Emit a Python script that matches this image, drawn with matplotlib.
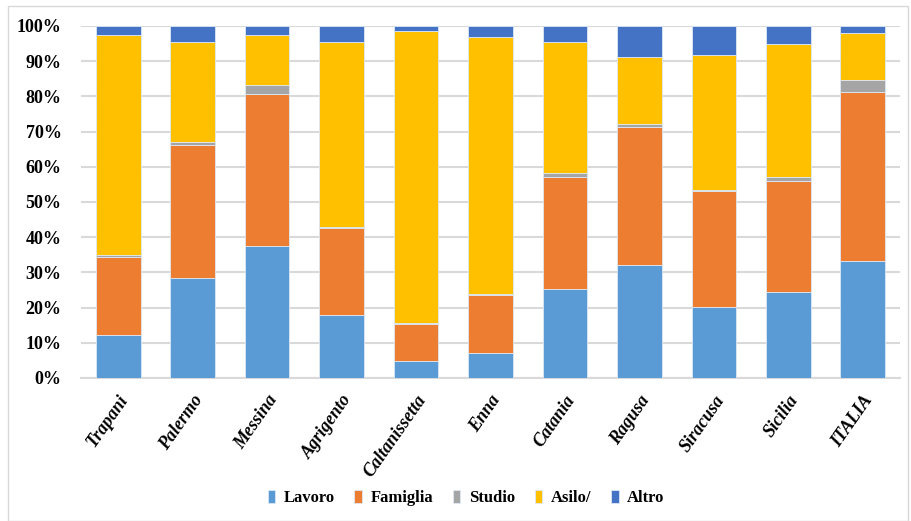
import matplotlib
matplotlib.use("Agg")
import matplotlib.pyplot as plt
from matplotlib.patches import Rectangle
from matplotlib.ticker import PercentFormatter
import numpy as np

# share of permits by reason, per province (%)
categories = ['Trapani', 'Palermo', 'Messina', 'Agrigento', 'Caltanissetta', 'Enna',
              'Catania', 'Ragusa', 'Siracusa', 'Sicilia', 'ITALIA']
lavoro = [12.2, 28.5, 37.4, 18.0, 4.9, 7.1, 25.3, 32.1, 20.2, 24.3, 33.2]
famiglia = [22.1, 37.6, 43.4, 24.5, 10.5, 16.6, 31.9, 39.1, 32.8, 31.8, 48.1]
studio = [0.6, 1.0, 2.5, 0.5, 0.1, 0.1, 1.0, 1.1, 0.5, 1.1, 3.5]
asilo = [62.5, 28.3, 14.1, 52.4, 83.1, 73.2, 37.2, 18.9, 38.3, 37.6, 13.2]
altro = [2.6, 4.6, 2.6, 4.6, 1.4, 3.0, 4.6, 8.8, 8.2, 5.2, 2.0]

series = [('Lavoro', lavoro, '#5B9BD5'),
          ('Famiglia', famiglia, '#ED7D31'),
          ('Studio', studio, '#A5A5A5'),
          ('Asilo/', asilo, '#FFC000'),
          ('Altro', altro, '#4472C4')]

plt.rcParams['font.family'] = ['Liberation Serif', 'DejaVu Serif']

fig = plt.figure(figsize=(9.11, 5.21), dpi=100)
ax = fig.add_axes([81 / 911, 1 - 378 / 521, 819 / 911, 352 / 521])

x = np.arange(len(categories))
bottom = np.zeros(len(categories))
for name, vals, col in series:
    vals = np.array(vals)
    ax.bar(x, vals, 0.6, bottom=bottom, color=col, label=name,
           edgecolor='#DDE8F5', linewidth=0.6, zorder=3)
    bottom += vals

ax.set_xlim(-0.5, len(categories) - 0.5)
ax.set_ylim(0, 100)
ax.set_yticks(np.arange(0, 101, 10))
ax.yaxis.set_major_formatter(PercentFormatter(decimals=0))
ax.grid(axis='y', color='#D9D9D9', linewidth=1.5, zorder=0)
for s in ['top', 'right', 'left']:
    ax.spines[s].set_visible(False)
ax.spines['bottom'].set_color('#D9D9D9')
ax.spines['bottom'].set_linewidth(1.5)
ax.tick_params(length=0)
ax.tick_params(axis='y', pad=14)
for t in ax.get_yticklabels():
    t.set_fontsize(13)
    t.set_fontweight('bold')

ax.set_xticks(x)
ax.set_xticklabels(categories, rotation=55, ha='right', rotation_mode='anchor',
                   fontsize=13, fontweight='bold', fontstyle='italic')
ax.tick_params(axis='x', pad=10)
for t in ax.get_xticklabels():
    t.set_x(t.get_position()[0] - 0.1)

leg = fig.legend(loc='center', bbox_to_anchor=(466 / 911, 1 - 498 / 521), ncol=5,
                 frameon=False, prop={'size': 12, 'weight': 'bold'},
                 handlelength=0.45, handleheight=0.8, handletextpad=0.5,
                 columnspacing=1.2)

fig.patches.append(Rectangle((8 / 911, 0), 900 / 911, 1 - 6 / 521,
                             transform=fig.transFigure, fill=False,
                             edgecolor='#D9D9D9', linewidth=1))

fig.savefig('out.png', dpi=100)
